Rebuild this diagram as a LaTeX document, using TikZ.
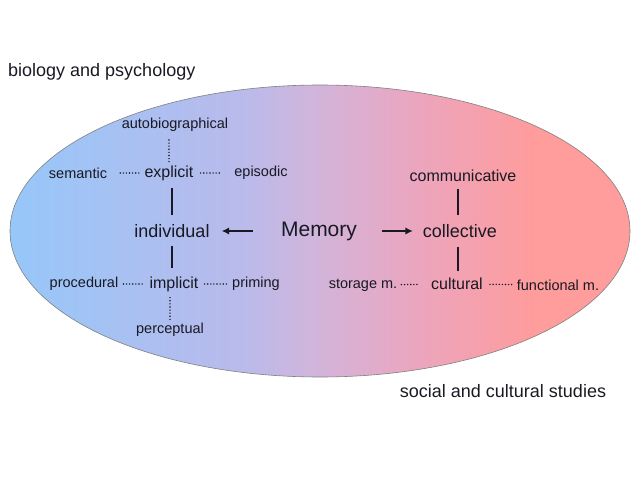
\documentclass[tikz,border=0pt]{standalone}
\usepackage{fontspec}
\setmainfont{Liberation Sans}
\usetikzlibrary{arrows.meta}
\definecolor{memtext}{RGB}{25,25,35}
\pgfdeclarehorizontalshading{memshade}{100bp}{
  rgb(0bp)=(0.59,0.78,0.98); rgb(25bp)=(0.59,0.78,0.98);
  rgb(44bp)=(0.73,0.73,0.92); rgb(49.5bp)=(0.82,0.71,0.86);
  rgb(57.5bp)=(0.92,0.65,0.75); rgb(67.5bp)=(1,0.61,0.61);
  rgb(100bp)=(1,0.61,0.61)}
\tikzset{
  small/.style = {inner sep=0pt, text=memtext, font=\fontsize{14.5}{16}\selectfont},
  sub/.style   = {inner sep=0pt, text=memtext, font=\fontsize{16}{18}\selectfont},
  mid/.style   = {inner sep=0pt, text=memtext, font=\fontsize{18}{20}\selectfont},
  big/.style   = {inner sep=0pt, text=memtext, font=\fontsize{21}{23}\selectfont},
  field/.style = {inner sep=0pt, text=memtext, font=\fontsize{18}{20}\selectfont},
  link/.style  = {line width=1.6pt, memtext},
  dots/.style  = {line width=1.6pt, memtext, line cap=round, dash pattern=on 0pt off 3.1pt},
  flow/.style  = {-{Latex[length=7.5pt,width=7.5pt]}, line width=2pt, memtext},
}

\begin{document}
\begin{tikzpicture}[x=1pt,y=-1pt]
      \useasboundingbox (0,0) rectangle (638,479);
      \shade[shading=memshade, draw=black!50, line width=0.6pt]
        (320,231) ellipse [x radius=310, y radius=146];
      \node[field, anchor=west] (bio) at (8,72) {biology and psychology};
      \node[field] (soc) at (503,391) {social and cultural studies};
      \node[big] (mem) at (319,231) {Memory};
      % individual side
      \node[mid]   (ind)  at (172,231) {individual};
      \node[sub]   (expl) at (169,173) {explicit};
      \node[sub]   (impl) at (174,284) {implicit};
      \node[small] (sem)  at (78,173)  {semantic};
      \node[small] (epi)  at (261,173) {episodic};
      \node[small] (auto) at (175,125) {autobiographical};
      \node[small] (proc) at (84,284)  {procedural};
      \node[small] (prim) at (256,284) {priming};
      \node[small] (perc) at (170,330) {perceptual};
      % collective side
      \node[mid]   (coll) at (460,231) {collective};
      \node[sub]   (comm) at (463,176) {communicative};
      \node[sub]   (cult) at (457,284) {cultural};
      \node[small] (stor) at (363,285) {storage m.};
      \node[small] (func) at (558,285) {functional m.};
      % connectors
      \draw[flow, shorten <=28pt, shorten >=12pt] (mem) -- (ind);
      \draw[flow, shorten <=25pt, shorten >=10pt] (mem) -- (coll);
      \draw[link, shorten <=7pt, shorten >=9pt] (expl.south -| ind) -- (ind.north);
      \draw[link, shorten <=8pt, shorten >=8pt] (ind.south) -- (impl.north -| ind);
      \draw[link, shorten <=7pt, shorten >=9pt] (comm.south -| 458,0) -- (coll.north -| 458,0);
      \draw[link, shorten <=9pt, shorten >=7pt] (coll.south -| 458,0) -- (cult.north -| 458,0);
      \draw[dots, shorten <=8pt, shorten >=2pt] (auto.south -| expl) -- (expl.north);
      \draw[dots, shorten <=6pt, shorten >=2pt] (impl.south -| perc) -- (perc.north);
      \draw[dots, shorten <=13pt, shorten >=4pt] (sem) -- (expl);
      \draw[dots, shorten <=7pt, shorten >=12pt] (expl) -- (epi);
      \draw[dots, shorten <=5pt, shorten >=5pt] (proc) -- (impl);
      \draw[dots, shorten <=6pt, shorten >=5pt] (impl) -- (prim);
      \draw[dots, shorten <=4pt, shorten >=11pt] (stor) -- (cult);
      \draw[dots, shorten <=7pt, shorten >=5pt] (cult) -- (func);
    \end{tikzpicture}
\end{document}
